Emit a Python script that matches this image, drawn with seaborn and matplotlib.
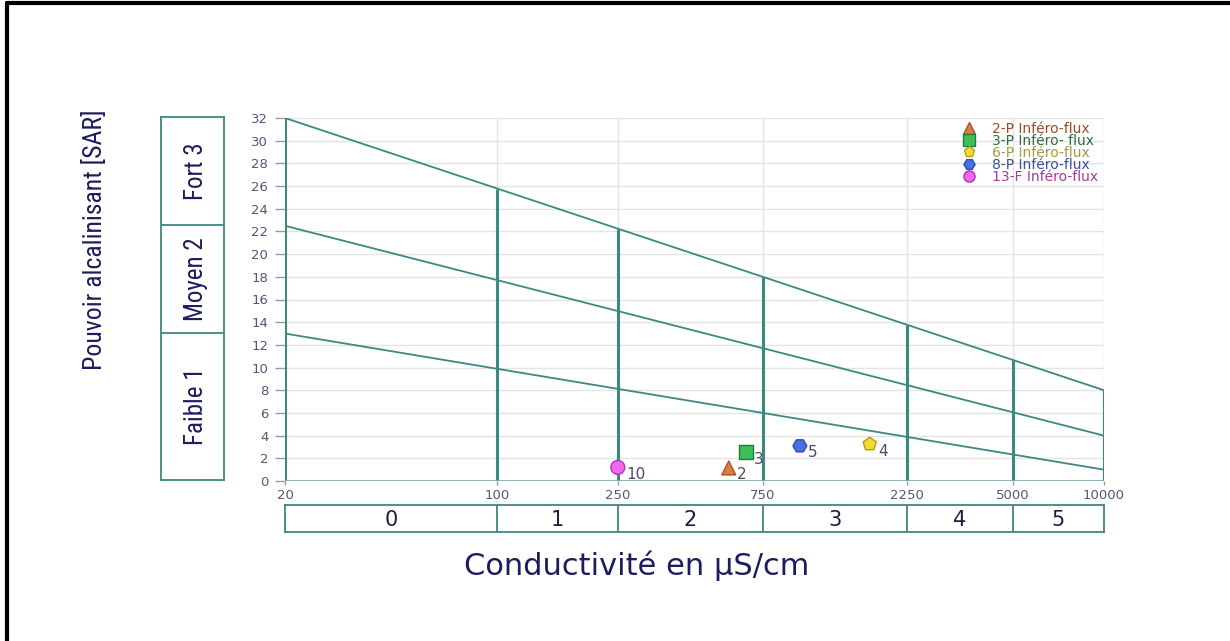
import numpy as np
import pandas as pd
import matplotlib
matplotlib.use("Agg")
import matplotlib.pyplot as plt
from matplotlib.lines import Line2D
import seaborn as sns

# Water samples: conductivity (µS/cm) and sodium adsorption ratio
samples = ["2-P Inféro-flux", "3-P Inféro- flux", "6-P Inféro-flux",
           "8-P Inféro-flux", "13-F Inféro-flux"]
point_ids = ["2", "3", "4", "5", "10"]
conductivity = [580, 660, 1690, 995, 250]
sar = [1.15, 2.55, 3.25, 3.1, 1.2]

# Salinity classes along the conductivity axis
ce_bounds = [20, 100, 250, 750, 2250, 5000, 10000]
ce_classes = ["0", "1", "2", "3", "4", "5"]

# Alkalinity limit lines: SAR at 20 and at 10000 µS/cm
sar_high = [32, 8]
sar_mid = [22.5, 4]
sar_low = [13, 1]

# Alkalinity classes on the SAR axis
sar_classes = ["Faible 1", "Moyen 2", "Fort 3"]
sar_class_bounds = [0, 13, 22.5, 32]
y_ticks = list(range(0, 33, 2))

fill_colors = ["#e27b3e", "#3fbf5a", "#f3dc30", "#4a70e2", "#f466f0"]
edge_colors = ["#a5532c", "#1f7d38", "#b59c14", "#2b4bb3", "#b232b0"]
text_colors = ["#9b4a2c", "#2f6d40", "#a59a3e", "#3d4d9e", "#a63a9c"]
marker_shapes = ["^", "s", "p", "H", "o"]

TEAL = "#3a8a80"
NAVY = "#1d1d5e"
TICK = "#55557a"

sns.set_theme(style="white")
plt.rcParams["font.family"] = ["DejaVu Sans"]
NARROW = ["Liberation Sans Narrow", "Roboto Condensed", "Open Sans Condensed",
          "Noto Sans Condensed", "DejaVu Sans"]

fig = plt.figure(figsize=(12.3, 6.41), dpi=100)

W, H = 1230, 641


def fig_rect(x0, y0, x1, y1):
    return [x0 / W, 1 - y1 / H, (x1 - x0) / W, (y1 - y0) / H]


ax = fig.add_axes(fig_rect(285, 118, 1104, 481))
x_lo, x_hi = ce_bounds[0], ce_bounds[-1]
ax.set_xscale("log")
ax.set_xlim(x_lo, x_hi)
ax.set_ylim(0, 32)


def limit(pair, x):
    f = (np.log10(x) - np.log10(x_lo)) / (np.log10(x_hi) - np.log10(x_lo))
    return pair[0] + (pair[1] - pair[0]) * f


# light grid
for yv in y_ticks[1:]:
    ax.axhline(yv, color="#e4e4e4", lw=1, zorder=0)
for xv in ce_bounds[1:]:
    ax.axvline(xv, color="#e4e4e4", lw=1, zorder=0)

# diagonal limit lines
xs = np.array(ce_bounds, dtype=float)
for pair in (sar_high, sar_mid, sar_low):
    sns.lineplot(x=xs, y=limit(pair, xs), ax=ax, color=TEAL, lw=1.3,
                 zorder=2, legend=False)

# class boundaries, drawn up to the upper limit line
for xv in ce_bounds:
    ax.plot([xv, xv], [0, limit(sar_high, xv)], color=TEAL, lw=2.2,
            zorder=2, solid_capstyle="butt")

for s in ax.spines.values():
    s.set_visible(False)
ax.axhline(0, color="#7aa8a2", lw=1.2, zorder=2)

# sample points
df = pd.DataFrame({"sample": samples, "ce": conductivity, "sar": sar})
sns.scatterplot(data=df, x="ce", y="sar", hue="sample", style="sample",
                palette=dict(zip(samples, fill_colors)),
                markers=dict(zip(samples, marker_shapes)),
                s=100, ax=ax, legend=False, zorder=5, linewidth=1)
ax.collections[-1].set_edgecolors(edge_colors)

for pid, xv, yv in zip(point_ids, conductivity, sar):
    ax.annotate(pid, (xv, yv), xytext=(6, -5), textcoords="offset points",
                ha="left", va="center", fontsize=11, color="#4a4a70",
                zorder=6)

ax.set_xticks(ce_bounds)
ax.set_xticklabels([str(v) for v in ce_bounds])
ax.xaxis.set_minor_locator(matplotlib.ticker.NullLocator())
ax.set_yticks(y_ticks)
ax.tick_params(axis="y", length=7, width=1, color="#9a9a9a", pad=5,
               labelsize=9.5, labelcolor=TICK, left=True)
ax.tick_params(axis="x", length=3, width=1, color="#9a9a9a", pad=3,
               labelsize=9.5, labelcolor=TICK, bottom=True)
ax.set_xlabel("")
ax.set_ylabel("")

handles = [Line2D([], [], ls="", marker=m, markersize=8, markerfacecolor=fc,
                  markeredgecolor=ec)
           for m, fc, ec in zip(marker_shapes, fill_colors, edge_colors)]
ax.legend(handles, samples, loc="upper left", bbox_to_anchor=(0.818, 1.008),
          frameon=False, fontsize=10, labelspacing=-0.15, handlelength=1.0,
          handletextpad=1.2, borderpad=0, labelcolor=text_colors)

# conductivity class strip
axb = fig.add_axes(fig_rect(285, 505, 1104, 532))
axb.set_xscale("log")
axb.set_xlim(x_lo, x_hi)
axb.set_ylim(0, 1)
for xv in ce_bounds[1:-1]:
    axb.axvline(xv, color=TEAL, lw=1.3)
for lo, hi, lab in zip(ce_bounds[:-1], ce_bounds[1:], ce_classes):
    axb.text(np.sqrt(lo * hi), 0.45, lab, ha="center", va="center",
             fontsize=15, color="#1e1e3a")
axb.set_xticks([])
axb.set_yticks([])
axb.xaxis.set_minor_locator(matplotlib.ticker.NullLocator())
for s in axb.spines.values():
    s.set_color(TEAL)
    s.set_linewidth(1.3)

# alkalinity class strip
axl = fig.add_axes(fig_rect(161, 117, 224, 480))
axl.set_xlim(0, 1)
axl.set_ylim(0, 32)
for yv in sar_class_bounds[1:-1]:
    axl.axhline(yv, color=TEAL, lw=1.3)
for lo, hi, lab in zip(sar_class_bounds[:-1], sar_class_bounds[1:],
                       sar_classes):
    axl.text(0.55, (lo + hi) / 2, lab, rotation=90, ha="center",
             va="center", fontsize=18, color=NAVY, family=NARROW,
             fontstretch="condensed")
axl.set_xticks([])
axl.set_yticks([])
for s in axl.spines.values():
    s.set_color(TEAL)
    s.set_linewidth(1.3)

fig.text(95 / W, 1 - 240 / H, "Pouvoir alcalinisant [SAR]", rotation=90,
         ha="center", va="center", fontsize=18.5, color=NAVY, family=NARROW,
         fontstretch="condensed")
fig.text(637 / W, 1 - 566 / H, "Conductivité en µS/cm", ha="center",
         va="center", fontsize=22, color=NAVY)

# page frame (left and top edges)
fig.add_artist(Line2D([7 / W, 7 / W], [0, 1 - 3 / H],
                      transform=fig.transFigure, color="black", lw=3))
fig.add_artist(Line2D([7 / W, 1], [1 - 3 / H, 1 - 3 / H],
                      transform=fig.transFigure, color="black", lw=3))

fig.savefig("out.png", dpi=100, facecolor="white")
